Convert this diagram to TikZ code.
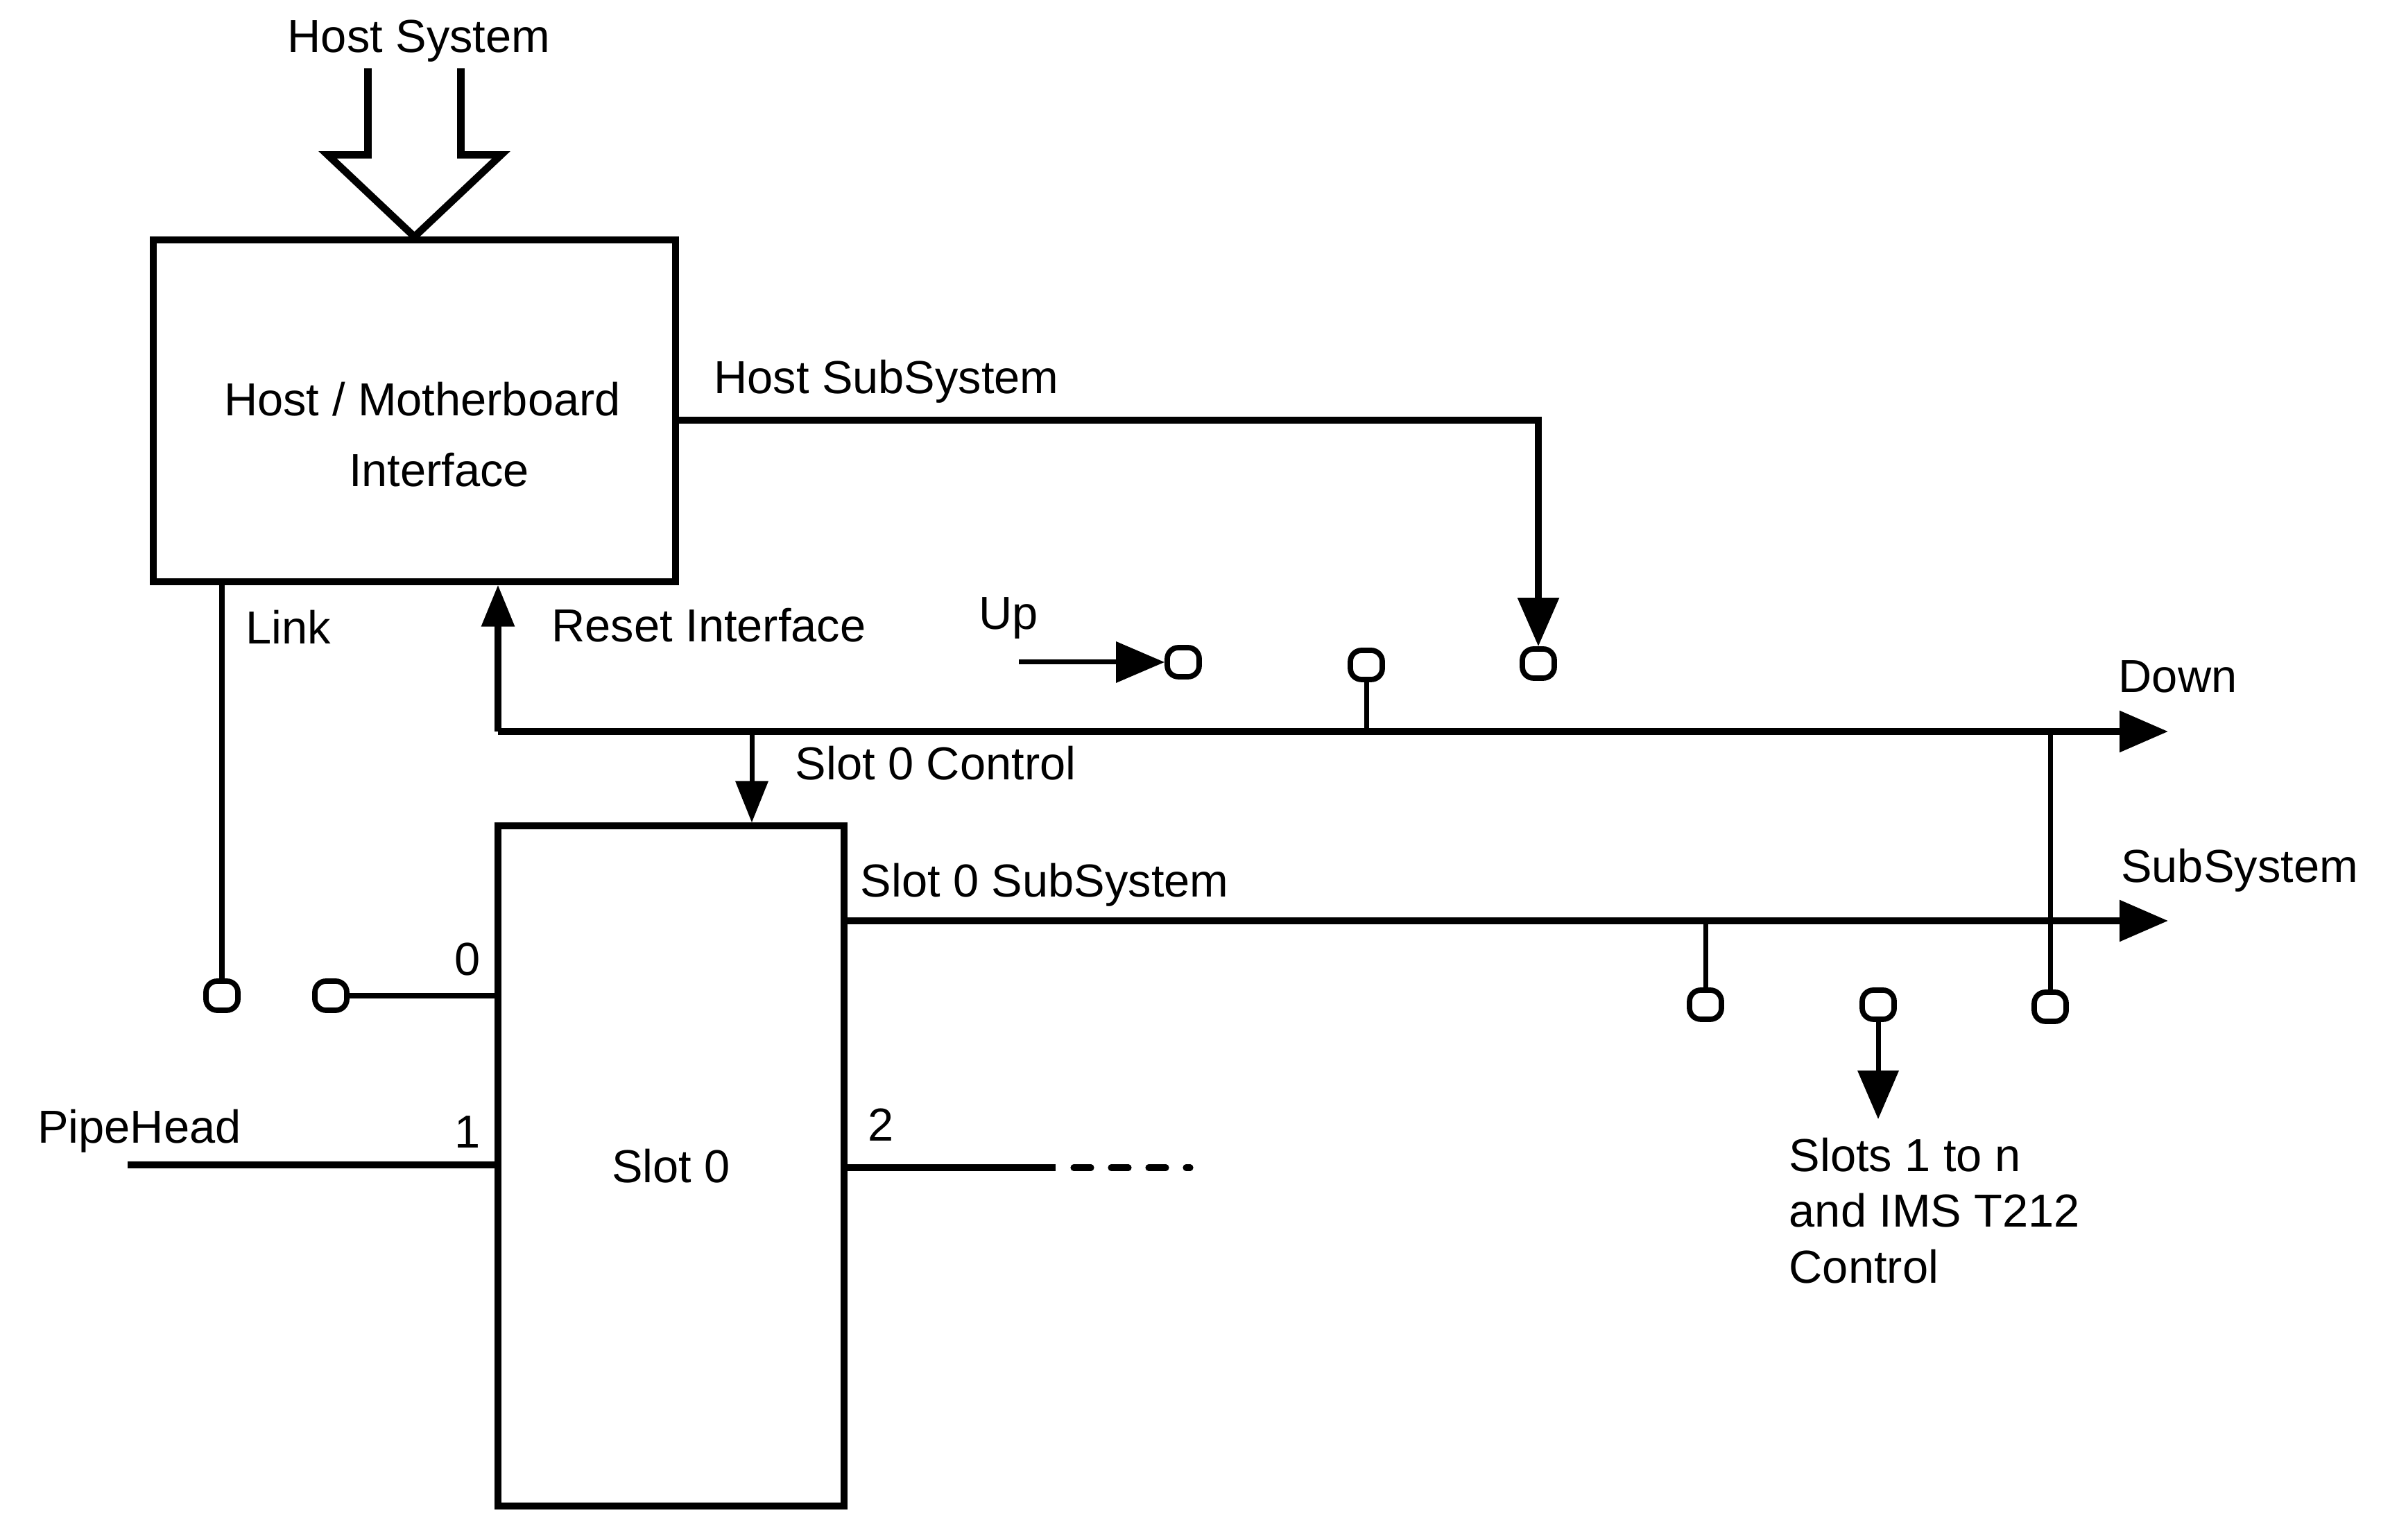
\documentclass[tikz,border=0pt]{standalone}
\usepackage{fontspec}
\setmainfont{Liberation Sans}
\usetikzlibrary{positioning,arrows.meta}

\begin{document}
\begin{tikzpicture}[
  font=\fontsize{19}{23}\selectfont,
  box/.style={rectangle,draw,line width=2.6pt,inner sep=0pt},
  port/.style={rectangle,draw,rounded corners=1.6mm,line width=2.2pt,minimum width=4.6mm,minimum height=4.2mm,inner sep=0pt},
  bus/.style={line width=2.6pt},
  stem/.style={line width=2pt},
  arrow/.style={-{Triangle[length=7mm,width=5.8mm]}},
  smallarrow/.style={-{Triangle[length=6mm,width=4.6mm]}},
  lbl/.style={inner sep=0pt}
]
\useasboundingbox (0,0) rectangle (34.33,22.20);
\node[box,minimum width=7.53cm,minimum height=4.93cm] (hostbox) at (5.975,16.275) {};
\node[lbl,align=center,font=\fontsize{19}{29}\selectfont] (hostlbl) at (6.09,15.93) {Host / Motherboard\\\hspace*{4.8mm}Interface};
\node[box,minimum width=4.99cm,minimum height=9.81cm] (slot) at (9.675,5.385) {Slot 0};
\node[lbl] (hostsys) at (6.04,21.61) {Host System};
\draw[line width=3pt,line join=miter] (hostbox.north) ++(-0.67,2.43) -- ++(0,-1.25) -- ++(-0.58,0) -- (hostbox.north) -- ++(1.25,1.18) -- ++(-0.58,0) -- ++(0,1.25);

\node[port] (plink) at (3.20,7.84) {};
\node[port] (p0) at (4.77,7.84) {};
\node[port] (pup) at (17.06,12.65) {};
\node[port] (pmid) at (19.70,12.61) {};
\node[port] (phost) at (22.18,12.63) {};
\node[port] (psub1) at (24.59,7.71) {};
\node[port] (psub2) at (27.08,7.71) {};
\node[port] (pright) at (29.56,7.68) {};

\coordinate (downbus) at (7.18,11.65);
\coordinate (downend) at (31.26,11.65);
\coordinate (ctrl) at (10.84,11.65);
\coordinate (subend) at (31.26,8.92);
\coordinate (upin) at (14.69,12.65);
\coordinate (slotsout) at (27.08,6.06);
\coordinate (pipein) at (1.84,5.40);
\coordinate (out2) at (15.22,5.36);
\coordinate (dashend) at (17.16,5.36);

\draw[bus,arrow] (downbus) -- (downend);
\draw[bus,smallarrow] (downbus) -- (downbus |- hostbox.south);
\draw[stem,smallarrow] (ctrl) -- (ctrl |- slot.north);
\draw[bus,arrow] (slot.east |- subend) -- (subend);
\draw[stem] (plink) -- (plink |- hostbox.south);
\draw[stem] (p0) -- (p0 -| slot.west);
\draw[bus] (pipein) -- (pipein -| slot.west);
\draw[bus] (slot.east |- out2) -- (out2);
\draw[bus,line cap=round,dash pattern=on 2.5mm off 2.9mm] ([xshift=2.6mm]out2) -- (dashend);
\draw[stem,arrow] (upin) -- (pup);
\draw[stem] (pmid) -- (pmid |- downend);
\draw[bus,arrow] ([yshift=-1.35mm]hostbox.east) -| (phost);
\draw[stem] (pright) -- (pright |- downend);
\draw[stem] (psub1) -- (psub1 |- subend);
\draw[stem,arrow] (psub2) -- (slotsout);

\node[lbl] (lhostsub) at (12.78,16.70) {Host SubSystem};
\node[lbl] (llink) at (4.16,13.16) {Link};
\node[lbl] (lreset) at (10.22,13.18) {Reset Interface};
\node[lbl] (lup) at (14.54,13.29) {Up};
\node[lbl] (ldown) at (31.40,12.44) {Down};
\node[lbl] (lctrl) at (13.49,11.19) {Slot 0 Control};
\node[lbl] (lslotsub) at (15.06,9.44) {Slot 0 SubSystem};
\node[lbl] (lsub) at (32.29,9.65) {SubSystem};
\node[lbl] (lport0) at (6.74,8.36) {0};
\node[lbl] (lport1) at (6.74,5.87) {1};
\node[lbl] (lport2) at (12.70,5.98) {2};
\node[lbl] (lpipe) at (2.01,5.89) {PipeHead};
\node[lbl,anchor=north west,align=left] (lslots) at (25.79,5.80) {Slots 1 to n\\and IMS T212\\Control};
\end{tikzpicture}
\end{document}
